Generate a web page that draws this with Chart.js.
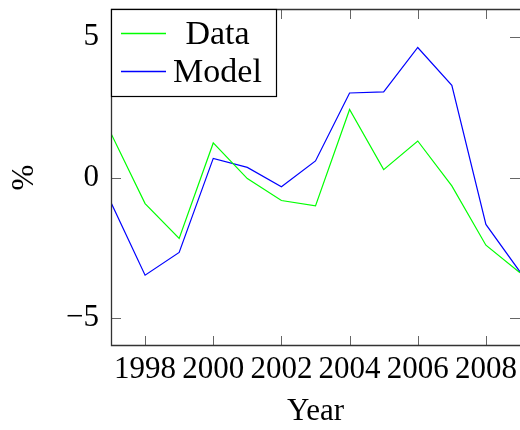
<!DOCTYPE html>
<html><head><meta charset="utf-8">
<script src="https://cdn.jsdelivr.net/npm/chart.js@4/dist/chart.umd.min.js"></script>
<style>html,body{margin:0;padding:0;background:#fff}#w{width:520px;height:430px}</style>
</head><body><div id="w"><canvas id="c" width="520" height="430"></canvas></div>
<script>
const years = [1997,1998,1999,2000,2001,2002,2003,2004,2005,2006,2007,2008,2009];
const dataSeries = [1.57,-0.93,-2.17,1.23,-0.04,-0.82,-1.01,2.42,0.28,1.30,-0.30,-2.41,-3.39];
const modelSeries = [-0.89,-3.48,-2.67,0.68,0.36,-0.33,0.59,3.01,3.05,4.63,3.28,-1.67,-3.36];
const xTicks = [1998,2000,2002,2004,2006,2008];
const yTicks = [-5,0,5];
const seriesNames = ['Data','Model'];
const FONT = '"Liberation Serif", "DejaVu Serif", serif';

const framePlugin = {
  id: 'frame',
  afterDatasetsDraw(chart) {
    const {ctx, chartArea: a, scales} = chart;
    ctx.save();
    ctx.strokeStyle = '#666'; ctx.lineWidth = 1;
    const tl = 10;
    ctx.beginPath();
    xTicks.forEach(v => { const x = Math.round(scales.x.getPixelForValue(v)) + 0.5;
      ctx.moveTo(x, a.bottom); ctx.lineTo(x, a.bottom - tl);
      ctx.moveTo(x, a.top); ctx.lineTo(x, a.top + tl); });
    yTicks.forEach(v => { const y = Math.round(scales.y.getPixelForValue(v)) + 0.5;
      ctx.moveTo(a.left, y); ctx.lineTo(a.left + tl, y);
      ctx.moveTo(a.right, y); ctx.lineTo(a.right - tl, y); });
    ctx.stroke();
    ctx.strokeStyle = '#333'; ctx.lineWidth = 1.3;
    ctx.beginPath();
    ctx.moveTo(a.right, a.top + 0.5); ctx.lineTo(a.left + 0.5, a.top + 0.5);
    ctx.lineTo(a.left + 0.5, a.bottom - 0.5); ctx.lineTo(a.right, a.bottom - 0.5);
    ctx.stroke();
    // legend
    const lx = a.left + 0.5, ly = a.top + 0.5, lw = 165, lh = 87;
    ctx.fillStyle = '#fff'; ctx.fillRect(lx, ly, lw, lh);
    ctx.strokeStyle = '#000'; ctx.lineWidth = 1.2; ctx.strokeRect(lx, ly, lw, lh);
    ctx.font = '34px ' + FONT; ctx.fillStyle = '#000'; ctx.textBaseline = 'alphabetic'; ctx.textAlign = 'center';
    chart.data.datasets.forEach((ds, i) => {
      const yy = Math.round(a.top + 24 + i * 38.4) + 0.5;
      ctx.strokeStyle = ds.borderColor; ctx.lineWidth = 1.4;
      ctx.beginPath(); ctx.moveTo(a.left + 10, yy); ctx.lineTo(a.left + 55, yy); ctx.stroke();
      ctx.fillText(ds.label, a.left + 106.5, yy + 10);
    });
    ctx.restore();
  }
};

new Chart(document.getElementById('c'), {
  type: 'line',
  data: {
    datasets: [
      {label: seriesNames[0], data: years.map((y,i)=>({x:y,y:dataSeries[i]})), borderColor:'#00ff00', borderWidth:1.2, pointRadius:0, tension:0, fill:false},
      {label: seriesNames[1], data: years.map((y,i)=>({x:y,y:modelSeries[i]})), borderColor:'#0000ff', borderWidth:1.2, pointRadius:0, tension:0, fill:false}
    ]
  },
  options: {
    responsive:false, animation:false, devicePixelRatio:1,
    layout:{padding:{top:9,right:0,left:0,bottom:0}},
    plugins:{legend:{display:false}, tooltip:{enabled:false}},
    scales:{
      x:{type:'linear', min:1997, max:2009,
        afterBuildTicks(s){ s.ticks = xTicks.map(v=>({value:v})); },
        afterFit(s){ s.height = 84; s.paddingLeft = 0; s.paddingRight = 0; },
        grid:{display:false, drawTicks:false}, border:{display:false},
        ticks:{padding:5, color:'#000', font:{family:FONT, size:31}, maxRotation:0, autoSkip:false, callback:v=>String(v)},
        title:{display:true, text:'Year', color:'#000', font:{family:FONT, size:31}, padding:{top:0,bottom:0}}
      },
      y:{min:-6, max:6,
        afterBuildTicks(s){ s.ticks = yTicks.map(v=>({value:v})); },
        afterFit(s){ s.width = 111; s.paddingTop = 0; s.paddingBottom = 0; },
        grid:{display:false, drawTicks:false}, border:{display:false},
        ticks:{padding:12, color:'#000', font:{family:FONT, size:31}, callback:v=> v<0 ? '\u2212'+Math.abs(v) : String(v)},
        title:{display:true, text:'%', color:'#000', font:{family:FONT, size:31}, padding:{top:6,bottom:0}}
      }
    }
  },
  plugins:[framePlugin]
});
</script></body></html>
